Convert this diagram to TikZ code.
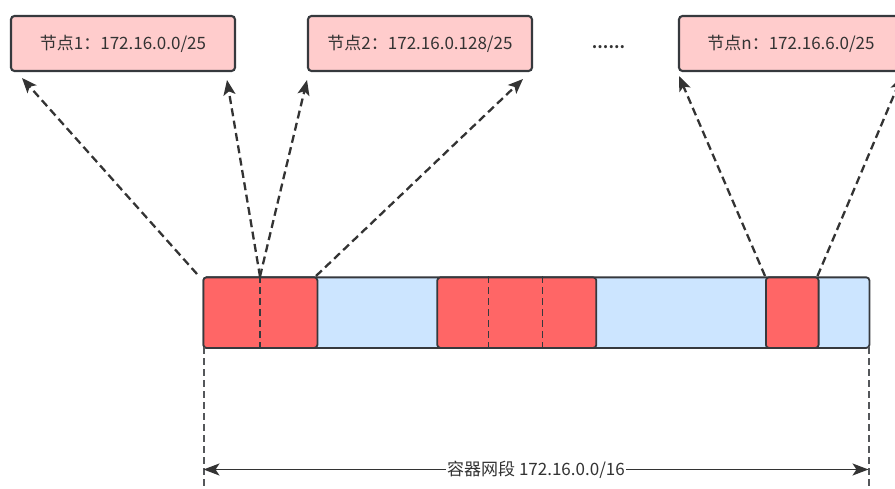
\documentclass[tikz,border=0pt]{standalone}
\usepackage{fontspec}
\newfontfamily\cjk{Noto Sans CJK SC}
\newfontfamily\cjkbold{Noto Sans CJK SC Bold}
\usetikzlibrary{arrows.meta}
\definecolor{boxfill}{HTML}{FFCCCC}
\definecolor{edge}{HTML}{36393D}
\definecolor{redseg}{HTML}{FF6666}
\definecolor{blueseg}{HTML}{CCE5FF}
\definecolor{txt}{HTML}{333333}
\begin{document}
\begin{tikzpicture}[x=1pt,y=-1pt,
  nodebox/.style={draw=edge, fill=boxfill, line width=2.1pt, rounded corners=3.5pt,
    minimum width=224pt, minimum height=55pt, inner sep=0pt,
    font=\cjk\fontsize{17}{20}\selectfont, text=txt},
  seg/.style={draw=edge, line width=1.8pt, rounded corners=3pt, inner sep=0pt,
    minimum height=70.5pt, anchor=north west},
  redblk/.style={seg, fill=redseg},
  link/.style={draw=txt, line width=2.3pt, dash pattern=on 8pt off 4.5pt,
    -{Stealth[length=15pt,width=12pt,inset=3.5pt]}},
  divider/.style={draw=edge, line width=1.8pt, dash pattern=on 7pt off 4pt},
  guide/.style={draw=edge!85, line width=2pt, dash pattern=on 7pt off 4pt},
  span/.style={draw=txt, line width=1.8pt,
    {Stealth[length=16pt,width=12pt,inset=4pt]}-{Stealth[length=16pt,width=12pt,inset=4pt]}},
  spanlabel/.style={fill=white, inner sep=1pt, text=txt, font=\cjk\fontsize{17}{20}\selectfont}
]
\useasboundingbox (0,0) rectangle (895,489);

% node boxes
\node[nodebox] (n1) at (123,43.5) {节点1：172.16.0.0/25};
\node[nodebox] (n2) at (420,43.5) {节点2：172.16.0.128/25};
\node[nodebox] (nn) at (791,43.5) {节点n：172.16.6.0/25};
\node[anchor=base, text=txt, font=\cjkbold\fontsize{17}{20}\selectfont] (dots) at (608.5,49) {......};

% bar
\node[seg, fill=blueseg, minimum width=666pt] (bar) at (202.5,276.5) {};
\node[redblk, minimum width=114pt] (r1) at (202.5,276.5) {};
\node[redblk, minimum width=159pt] (r2) at (436.4,276.5) {};
\node[redblk, minimum width=52.7pt] (r3) at (765,276.5) {};

% dividers
\coordinate (d1t) at (260,276.5);  \coordinate (d1b) at (260,347);
\coordinate (d2t) at (488.5,276.5);\coordinate (d2b) at (488.5,347);
\coordinate (d3t) at (542.5,276.5);\coordinate (d3b) at (542.5,347);
\draw[divider] (d1t) -- (d1b);
\draw[divider] (d2t) -- (d2b);
\draw[divider] (d3t) -- (d3b);

% arrow starts and ends
\coordinate (s1) at (197,274);
\coordinate (s4) at (316,276);
\coordinate (s5) at (765,276);
\coordinate (s6) at (817.5,276);
\coordinate (e1) at (22,78);
\coordinate (e2) at (227,80);
\coordinate (e3) at (307,80);
\coordinate (e4) at (523,79);
\coordinate (e5) at (679,76);
\coordinate (e6) at (902,76);

\draw[link] (s1) -- (e1);
\draw[link] (d1t) -- (e2);
\draw[link] (d1t) -- (e3);
\draw[link] (s4) -- (e4);
\draw[link] (s5) -- (e5);
\draw[link] (s6) -- (e6);

% guides
\coordinate (gl) at (203.5,347);  \coordinate (glb) at (203.5,492);
\coordinate (gr) at (868.5,347);  \coordinate (grb) at (868.5,492);
\draw[guide] (gl) -- (glb);
\draw[guide] (gr) -- (grb);

\coordinate (al) at (203.5,469.5);
\coordinate (ar) at (868.5,469.5);
\draw[span] (al) -- (ar) node[midway, spanlabel] (lbl) {容器网段 172.16.0.0/16};
\end{tikzpicture}
\end{document}
